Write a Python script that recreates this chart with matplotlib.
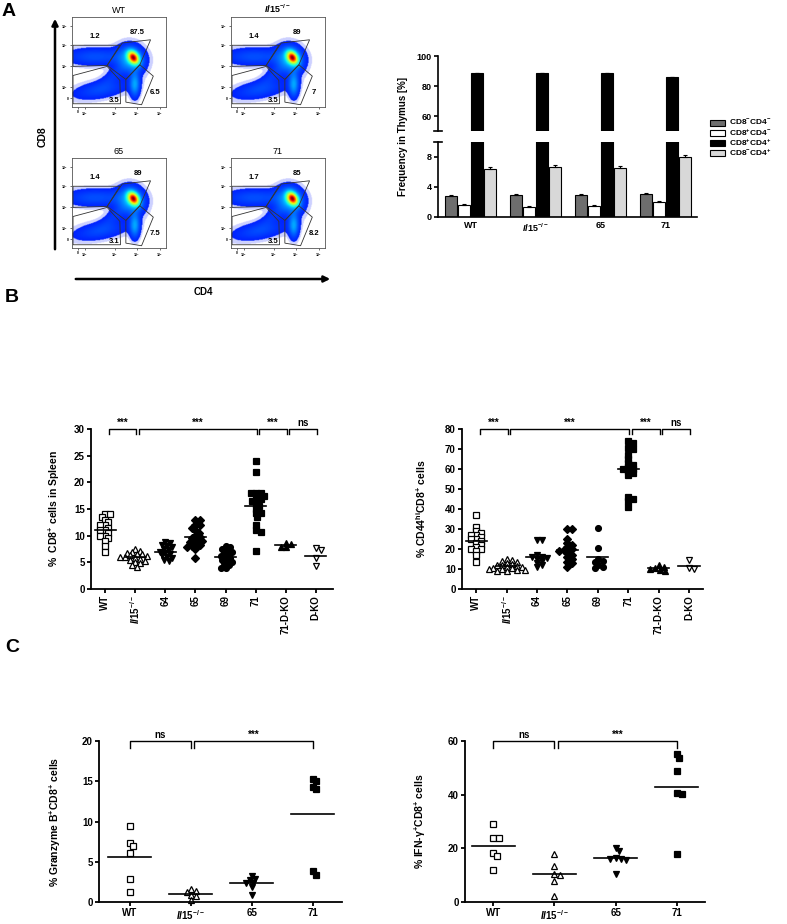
import numpy as np
import matplotlib
matplotlib.use('Agg')
import matplotlib.pyplot as plt
from matplotlib.patches import Polygon, Rectangle, FancyArrowPatch

plt.rcParams['font.family'] = ['Liberation Sans', 'DejaVu Sans']
plt.rcParams['font.weight'] = 'bold'
plt.rcParams['axes.labelweight'] = 'bold'
plt.rcParams['mathtext.fontset'] = 'custom'
plt.rcParams['mathtext.rm'] = 'Liberation Sans:bold'
plt.rcParams['mathtext.it'] = 'Liberation Sans:italic:bold'
plt.rcParams['mathtext.bf'] = 'Liberation Sans:bold'
plt.rcParams['mathtext.default'] = 'rm'

W, H = 787, 924
IL15 = r'$\mathit{Il15}^{-/-}$'

# ---- panel A: flow plots ----
flow_titles = ['WT', IL15, '65', '71']
gate_cd8 = ['1.2', '1.4', '1.4', '1.7']
gate_dp = ['87.5', '89', '89', '85']
gate_dn = ['3.5', '3.5', '3.1', '3.5']
gate_cd4 = ['6.5', '7', '7.5', '8.2']
# populations: centre x, centre y, sd x, sd y, angle, peak height (axes fraction)
flow_pops = [
    (0.655, 0.55, 0.035, 0.05, 30, 1.0),
    (0.63, 0.53, 0.09, 0.10, 25, 0.22),
    (0.25, 0.56, 0.22, 0.065, 0, 0.09),
    (0.67, 0.25, 0.035, 0.09, 0, 0.2),
    (0.30, 0.19, 0.20, 0.065, 10, 0.08),
    (0.45, 0.36, 0.12, 0.05, 40, 0.05),
]

# ---- panel A: thymus bars ----
thy_groups = ['WT', IL15, '65', '71']
thy_labels = [r'CD8$^{-}$CD4$^{-}$', r'CD8$^{+}$CD4$^{-}$',
              r'CD8$^{+}$CD4$^{+}$', r'CD8$^{-}$CD4$^{+}$']
thy_dn = [2.8, 2.9, 2.9, 3.1]
thy_dn_err = [0.2, 0.15, 0.15, 0.15]
thy_cd8 = [1.6, 1.4, 1.45, 2.0]
thy_cd8_err = [0.15, 0.1, 0.1, 0.15]
thy_dp = [88.5, 88.5, 88.5, 86.0]
thy_dp_err = [0.3, 0.3, 0.3, 0.3]
thy_cd4 = [6.4, 6.7, 6.6, 8.0]
thy_cd4_err = [0.3, 0.3, 0.2, 0.3]
thy_colors = ['#6e6e6e', 'white', 'black', '#d8d8d8']

# ---- panel B ----
b_groups = ['WT', IL15, '64', '65', '69', '71', '71-D-KO', 'D-KO']
b_markers = ['s', '^', 'v', 'D', 'o', 's', '^', 'v']
b_filled = [False, False, True, True, True, True, True, False]

spl_wt = [14, 14, 13.5, 13, 12.5, 12, 12, 11.5, 11, 11, 10.5, 10, 10, 9.5, 9, 8, 7]
spl_il15 = [7.5, 7.2, 7, 6.8, 6.6, 6.5, 6.3, 6.2, 6, 6, 5.8, 5.6, 5.5, 5.3, 5, 4.8, 4.5, 4.2]
spl_64 = [8.8, 8.6, 8.3, 8, 7.8, 7.5, 7.3, 7, 6.8, 6.5, 6.3, 6, 5.8, 5.5, 5.2]
spl_65 = [13, 13, 12, 12, 11.5, 11, 10.5, 10, 9.8, 9.5, 9.2, 9, 8.8, 8.5, 8.2, 8, 7.8, 7.5, 5.8]
spl_69 = [8, 7.8, 7.5, 7.2, 7, 6.7, 6.5, 6.2, 6, 5.8, 5.5, 5.3, 5, 4.8, 4.5, 4, 3.9]
spl_71 = [24, 22, 18, 18, 18, 17.5, 17, 16.8, 16.5, 16, 15.5, 15, 14.2, 14.2, 13.5, 12, 11, 10.6, 7.1]
spl_71dko = [8.7, 8.5, 7.9, 7.8]
spl_dko = [7.6, 7.3, 5.8, 4.3]

cd44_wt = [37, 31, 29, 28, 27, 27, 26, 25, 25, 24, 23, 22, 21, 20, 20, 19, 17, 13.5]
cd44_il15 = [15, 14.5, 14, 13.5, 13, 12.5, 12, 12, 11.5, 11, 11, 10.5, 10.5, 10, 10, 9.5, 9.5, 9, 9]
cd44_64 = [24.5, 24.5, 17, 16, 16, 15.5, 15, 14, 13, 12, 11]
cd44_65 = [30, 30, 25, 23, 22, 21, 20, 19.5, 19, 18, 17, 16, 15, 13.5, 13, 11]
cd44_69 = [30.5, 20.5, 15, 14, 13.5, 12, 11, 10.5]
cd44_71 = [74, 73, 70.5, 70, 67, 65, 63, 62, 61, 60, 60, 59, 58, 57, 46, 45, 44, 41]
cd44_71dko = [12, 11, 10.5, 10, 9.5, 9]
cd44_dko = [14.5, 10.5, 10]

# ---- panel C ----
c_groups = ['WT', IL15, '65', '71']
c_markers = ['s', '^', 'v', 's']
c_filled = [False, False, True, True]
gzb_wt = [9.5, 7.3, 6.9, 6.1, 2.8, 1.2]
gzb_il15 = [1.6, 1.4, 1.3, 0.85, 0.8, 0.3]
gzb_65 = [3.2, 2.9, 2.7, 2.4, 2.3, 1.9, 0.9]
gzb_71 = [15.3, 15.0, 14.3, 14.0, 3.8, 3.4]
ifn_wt = [29, 24, 24, 18.3, 17.1, 12]
ifn_il15 = [18, 13.3, 10.6, 9.9, 7.8, 2.4]
ifn_65 = [20, 19, 16.5, 16.2, 16, 15.5, 10.6]
ifn_71 = [55.3, 53.7, 48.8, 40.8, 40.1, 18]

fig = plt.figure(figsize=(W / 100, H / 100), dpi=100)


def px_axes(x0, y0, x1, y1):
    return fig.add_axes([x0 / W, 1 - y1 / H, (x1 - x0) / W, (y1 - y0) / H])


def fx(x):
    return x / W


def fy(y):
    return 1 - y / H


# flow density image (same shape in every plot)
gx, gy = np.meshgrid(np.linspace(0, 1, 160), np.linspace(0, 1, 160))
dens = np.zeros_like(gx)
for cx, cy, sx, sy, ang, hgt in flow_pops:
    a = np.deg2rad(ang)
    u = (gx - cx) * np.cos(a) + (gy - cy) * np.sin(a)
    v = -(gx - cx) * np.sin(a) + (gy - cy) * np.cos(a)
    dens += hgt * np.exp(-0.5 * ((u / sx) ** 2 + (v / sy) ** 2))
dens = dens / dens.max()
rgba = plt.cm.jet(0.14 + 0.86 * dens)
rgba[..., 3] = np.where(dens > 0.02, 1.0, np.where(dens > 0.008, 0.2, 0.0))

gate_shapes = [
    [(0.011, 0.686), (0.509, 0.686), (0.374, 0.462), (0.011, 0.451)],
    [(0.374, 0.462), (0.534, 0.711), (0.836, 0.747), (0.722, 0.469), (0.573, 0.307)],
    [(0.011, 0.350), (0.374, 0.451), (0.509, 0.296), (0.516, 0.036), (0.011, 0.036)],
    [(0.573, 0.307), (0.722, 0.469), (0.865, 0.343), (0.740, 0.025), (0.573, 0.054)],
]
flow_boxes = [(72, 17, 166, 107), (231, 17, 325, 107), (72, 158, 166, 248), (231, 158, 325, 248)]
for k, box in enumerate(flow_boxes):
    ax = px_axes(*box)
    ax.imshow(rgba, extent=(0, 1, 0, 1), origin='lower', aspect='auto', interpolation='bilinear')
    for g in gate_shapes:
        ax.add_patch(Polygon(g, closed=True, fill=False, edgecolor='#333333', lw=0.6))
    ax.text(0.242, 0.783, gate_cd8[k], fontsize=5.5, ha='center', va='center')
    ax.text(0.698, 0.83, gate_dp[k], fontsize=5.5, ha='center', va='center')
    ax.text(0.45, 0.075, gate_dn[k], fontsize=5.5, ha='center', va='center')
    ax.text(0.885, 0.165, gate_cd4[k], fontsize=5.5, ha='center', va='center')
    ax.set_xlim(0, 1)
    ax.set_ylim(0, 1)
    ax.set_xticks([0.064, 0.135, 0.456, 0.687, 0.936])
    ax.set_xticklabels(['0', r'10$^2$', r'10$^3$', r'10$^4$', r'10$^5$'])
    ax.set_yticks([0.097, 0.217, 0.451, 0.686, 0.90])
    ax.set_yticklabels(['0', r'10$^2$', r'10$^3$', r'10$^4$', r'10$^5$'])
    ax.tick_params(labelsize=2.5, length=1.5, width=0.4, pad=1)
    for s in ax.spines.values():
        s.set_linewidth(0.6)
        s.set_color('#555555')
    ax.set_title(flow_titles[k], fontsize=6.5, pad=3)

fig.add_artist(FancyArrowPatch((fx(55), fy(252)), (fx(55), fy(16)), transform=fig.transFigure,
                               arrowstyle='-|>', mutation_scale=9, lw=1.8, color='black'))
fig.add_artist(FancyArrowPatch((fx(73), fy(279)), (fx(333), fy(279)), transform=fig.transFigure,
                               arrowstyle='-|>', mutation_scale=9, lw=1.8, color='black'))
fig.text(fx(43), fy(137), 'CD8', rotation=90, fontsize=7.5, ha='center', va='center')
fig.text(fx(203), fy(292), 'CD4', fontsize=7, ha='center', va='center')

# thymus bar chart with broken axis
ax_up = px_axes(438, 56, 697, 131)
ax_lo = px_axes(438, 142, 697, 217)
series = [(thy_dn, thy_dn_err), (thy_cd8, thy_cd8_err), (thy_dp, thy_dp_err), (thy_cd4, thy_cd4_err)]
xg = np.arange(len(thy_groups))
for ax in (ax_up, ax_lo):
    for j, (vals, err) in enumerate(series):
        ax.bar(xg + (j - 1.5) * 0.2, vals, width=0.19, color=thy_colors[j], edgecolor='black', lw=0.8,
               yerr=[np.zeros(len(err)), err], capsize=1.5, error_kw=dict(lw=0.8, capthick=0.8))
    ax.set_xlim(-0.5, 3.48)
    for s in ['top', 'right']:
        ax.spines[s].set_visible(False)
    ax.spines['left'].set_linewidth(1.2)
    ax.spines['bottom'].set_linewidth(1.2)
    ax.tick_params(axis='y', width=1.2, length=3, labelsize=6.5, pad=1.5)
ax_up.set_ylim(50, 100)
ax_up.set_yticks([60, 80, 100])
ax_up.spines['bottom'].set_visible(False)
ax_up.set_xticks([])
ax_lo.set_ylim(0, 10)
ax_lo.set_yticks([0, 4, 8])
ax_lo.set_xticks(xg)
ax_lo.set_xticklabels(thy_groups)
ax_lo.tick_params(axis='x', length=0, labelsize=6.5, pad=3)
for ax, yy in ((ax_up, 0), (ax_lo, 1)):
    ax.plot([-0.015, 0.015], [yy, yy], transform=ax.transAxes, color='black', lw=1.2, clip_on=False)
fig.text(fx(403), fy(137), 'Frequency in Thymus [%]', rotation=90, fontsize=7, ha='center', va='center')

# legend drawn row by row
for j, (lab, col) in enumerate(zip(thy_labels, thy_colors)):
    yc = 123 + j * 10
    fig.add_artist(Rectangle((fx(710), fy(yc + 3)), 15 / W, 6 / H, transform=fig.transFigure,
                             facecolor=col, edgecolor='black', lw=0.8))
    fig.text(fx(729), fy(yc), lab, fontsize=6, ha='left', va='center')


# ---- scatter helpers ----
def swarm(vals, ax, diam):
    pos = ax.get_position()
    xl, yl = ax.get_xlim(), ax.get_ylim()
    xpx = pos.width * W / (xl[1] - xl[0])
    ypx = pos.height * H / (yl[1] - yl[0])
    vals = np.asarray(vals, dtype=float)
    offs = np.zeros(len(vals))
    placed = []
    cands = [0.0]
    for k in range(1, 40):
        cands += [k * diam * 0.3, -k * diam * 0.3]
    for i in np.argsort(-vals):
        y = vals[i] * ypx
        for c in cands:
            if all((c - px) ** 2 + (y - py) ** 2 >= (diam * 0.72) ** 2 for px, py in placed):
                break
        placed.append((c, y))
        offs[i] = c / xpx
    return offs


def style(ax, lw=1.3):
    for s in ['top', 'right']:
        ax.spines[s].set_visible(False)
    for s in ['left', 'bottom']:
        ax.spines[s].set_linewidth(lw)
    ax.tick_params(width=lw, length=3, labelsize=7, pad=1.5)


def bracket(ax, x0, x1, y, hpx, text):
    pos = ax.get_position()
    yl = ax.get_ylim()
    h = hpx * (yl[1] - yl[0]) / (pos.height * H)
    ax.plot([x0, x0, x1, x1], [y - h, y, y, y - h], color='black', lw=1.0, clip_on=False)
    ax.text((x0 + x1) / 2, y + h * 0.15, text, ha='center', va='bottom', fontsize=7, clip_on=False)


def dot_plot(ax, groups, data, markers, filled, ms, diam):
    for i, vals in enumerate(data):
        offs = swarm(vals, ax, diam)
        ax.plot(i + offs, vals, linestyle='none', marker=markers[i], ms=ms,
                mfc='black' if filled[i] else 'white', mec='black', mew=0.9, clip_on=False)
        m = np.mean(vals)
        ax.plot([i - 0.35, i + 0.35], [m, m], color='black', lw=1.2)
    ax.set_xticks(np.arange(len(groups)))


# ---- panel B ----
axb1 = px_axes(91, 429, 333, 589)
axb1.set_xlim(-0.47, 7.57)
axb1.set_ylim(0, 30)
style(axb1)
dot_plot(axb1, b_groups, [spl_wt, spl_il15, spl_64, spl_65, spl_69, spl_71, spl_71dko, spl_dko],
         b_markers, b_filled, 4.2, 5.5)
axb1.set_yticks(range(0, 31, 5))
axb1.set_xticklabels(b_groups, rotation=90)
axb1.set_ylabel(r'%  CD8$^{+}$ cells in Spleen', fontsize=7.5)
axb1.yaxis.set_label_coords(-0.118, 0.5)

axb2 = px_axes(462, 429, 703, 589)
axb2.set_xlim(-0.47, 7.46)
axb2.set_ylim(0, 80)
style(axb2)
dot_plot(axb2, b_groups, [cd44_wt, cd44_il15, cd44_64, cd44_65, cd44_69, cd44_71, cd44_71dko, cd44_dko],
         b_markers, b_filled, 4.2, 5.5)
axb2.set_yticks(range(0, 81, 10))
axb2.set_xticklabels(b_groups, rotation=90)
axb2.set_ylabel(r'% CD44$^{\mathrm{hi}}$CD8$^{+}$ cells', fontsize=7.5)
axb2.yaxis.set_label_coords(-0.142, 0.5)

for ax, top in ((axb1, 30), (axb2, 80)):
    for a, b, t in [(0, 1, '***'), (1, 5, '***'), (5, 6, '***'), (6, 7, 'ns')]:
        bracket(ax, a + 0.12, b + 0.03, top, 5.5, t)

# ---- panel C ----
axc1 = px_axes(99, 741, 342, 902)
axc1.set_xlim(-0.5, 3.48)
axc1.set_ylim(0, 20)
style(axc1)
dot_plot(axc1, c_groups, [gzb_wt, gzb_il15, gzb_65, gzb_71], c_markers, c_filled, 4.6, 6.0)
axc1.set_yticks([0, 5, 10, 15, 20])
axc1.set_xticklabels(c_groups)
axc1.set_ylabel(r'% Granzyme B$^{+}$CD8$^{+}$ cells', fontsize=7.5)
axc1.yaxis.set_label_coords(-0.147, 0.5)

axc2 = px_axes(465, 741, 705, 902)
axc2.set_xlim(-0.46, 3.46)
axc2.set_ylim(0, 60)
style(axc2)
dot_plot(axc2, c_groups, [ifn_wt, ifn_il15, ifn_65, ifn_71], c_markers, c_filled, 4.6, 6.0)
axc2.set_yticks([0, 20, 40, 60])
axc2.set_xticklabels(c_groups)
axc2.set_ylabel(r'% IFN-$\gamma^{+}$CD8$^{+}$ cells', fontsize=7.5)
axc2.yaxis.set_label_coords(-0.153, 0.5)

for ax, top in ((axc1, 20), (axc2, 60)):
    bracket(ax, 0.0, 1.0, top, 6.5, 'ns')
    bracket(ax, 1.06, 3.0, top, 6.5, '***')

fig.text(fx(9), fy(12), 'A', fontsize=14, ha='center', va='center')
fig.text(fx(12), fy(298), 'B', fontsize=14, ha='center', va='center')
fig.text(fx(12), fy(648), 'C', fontsize=14, ha='center', va='center')

fig.savefig('out.png', dpi=100)
